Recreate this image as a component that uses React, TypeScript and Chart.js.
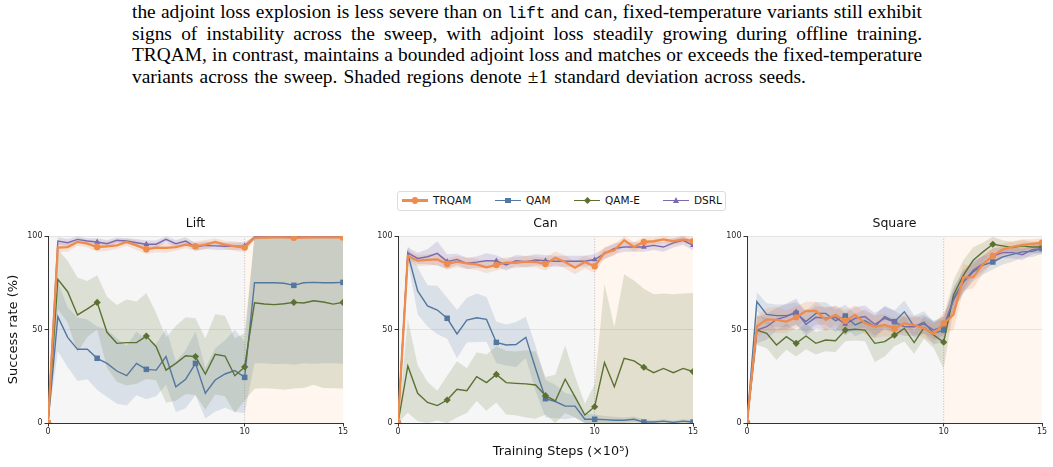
import { useEffect, useRef } from "react";
import { Chart, registerables } from "chart.js";

Chart.register(...registerables);

// Training steps (x 10^5)
const STEPS = [0, 0.5, 1, 1.5, 2, 2.5, 3, 3.5, 4, 4.5, 5, 5.5, 6, 6.5, 7, 7.5, 8, 8.5, 9, 9.5, 10, 10.5, 11, 11.5, 12, 12.5, 13, 13.5, 14, 14.5, 15];
const X_TICKS = [0, 10, 15];
const Y_TICKS = [0, 50, 100];
const SERIES_NAMES = ["TRQAM", "QAM", "QAM-E", "DSRL"];

// Lift: mean success rate and std across seeds
const LIFT_TRQAM = [0, 93.8, 94.1, 96.8, 95.9, 94.1, 94.5, 95.0, 96.8, 95.0, 92.9, 93.8, 93.6, 94.1, 95.4, 94.5, 95.4, 96.8, 95.4, 94.5, 93.8, 99.0, 99.2, 99.3, 99.3, 99.0, 99.2, 99.3, 99.3, 99.3, 99.2];
const LIFT_TRQAM_SD = [0, 2.5, 2.5, 2, 2, 2.5, 2.5, 2, 2, 2.5, 2.5, 2.5, 2.5, 2, 2, 2.5, 2.5, 2, 2, 2.5, 2.5, 1, 0.7, 0.6, 0.6, 0.7, 0.6, 0.6, 0.6, 0.6, 0.7];
const LIFT_QAM = [0, 56.9, 45.8, 39.4, 39.4, 34.6, 31.9, 27.8, 25.3, 31.9, 28.7, 28.3, 35.5, 19.4, 23.4, 31.9, 15.9, 23.0, 26.2, 28.0, 24.4, 75.0, 75.0, 75.0, 74.7, 73.6, 75.0, 75.2, 75.0, 75.0, 75.2];
const LIFT_QAM_SD = [0, 18.5, 16, 17, 16, 17, 18, 17.5, 16, 17, 16, 14, 15, 13.5, 15.5, 17, 13.5, 17, 18, 22, 19, 43, 43, 43.5, 43, 42.5, 43, 43.5, 43, 43, 43.5];
const LIFT_QAME = [0, 76.8, 70.2, 57.8, 61.0, 64.5, 48.5, 42.6, 43.0, 43.0, 46.5, 40.8, 28.3, 31.9, 36.0, 35.5, 26.2, 36.7, 35.8, 25.3, 30.0, 64.3, 63.6, 63.3, 63.8, 64.5, 64.2, 65.4, 64.7, 63.6, 64.5];
const LIFT_QAME_SD = [0, 16, 16.5, 20, 15, 14.5, 19, 20.5, 23, 22, 23, 18, 17.5, 20, 20.5, 20.5, 19, 21.5, 21.5, 20, 18, 46, 45, 45, 46, 46, 45.5, 45, 46, 45, 46];
const LIFT_DSRL = [0, 97.3, 96.4, 98.2, 97.3, 96.8, 95.9, 97.7, 97.3, 96.4, 95.6, 95.6, 98.2, 95.9, 97.3, 94.1, 95.0, 94.7, 94.5, 94.5, 94.7, 99.5, 99.6, 99.6, 99.6, 99.5, 99.6, 99.6, 99.6, 99.6, 99.6];
const LIFT_DSRL_SD = [0, 2, 2, 1.5, 1.5, 2, 2, 1.5, 1.5, 2, 2, 2, 1.5, 2, 2, 2, 2, 2, 2, 2, 2, 0.5, 0.4, 0.4, 0.4, 0.4, 0.4, 0.4, 0.4, 0.4, 0.4];

// Can
const CAN_TRQAM = [0, 89.3, 86.8, 87.2, 87.5, 85.0, 86.3, 85.4, 84.8, 83.2, 84.5, 85.7, 85.7, 86.3, 86.1, 85.0, 88.3, 86.1, 83.0, 86.1, 83.8, 91.0, 92.4, 97.7, 94.1, 96.8, 97.2, 98.2, 97.2, 98.2, 97.2];
const CAN_TRQAM_SD = [0, 3, 3, 3, 3, 3, 3, 3, 3, 3, 3, 3, 3, 3, 3, 3.5, 3.5, 3.5, 3.5, 3.5, 3.5, 3, 3, 2.5, 2.5, 2.5, 2, 2, 2, 2, 2];
const CAN_QAM = [0, 90.4, 70.6, 62.6, 60.4, 56.0, 47.6, 55.0, 56.3, 55.4, 43.1, 41.7, 42.0, 45.8, 29.0, 13.0, 11.5, 9.0, 9.0, 2.0, 2.0, 1.8, 1.5, 1.5, 2.0, 0.5, 0.5, 1.0, 0.3, 1.0, 0.5];
const CAN_QAM_SD = [0, 4, 12.5, 11, 13, 11, 13, 12, 13, 12, 11, 11, 12, 11, 12, 10, 9, 7, 6, 3, 2.5, 2, 1.8, 1.5, 1.5, 1.5, 1, 1, 1, 1, 1];
const CAN_QAME = [0, 30.5, 15.9, 11.0, 9.3, 12.3, 18.0, 17.3, 24.8, 21.6, 26.0, 21.6, 21.2, 20.9, 20.3, 14.6, 11.8, 23.4, 14.0, 4.3, 8.7, 32.3, 19.4, 34.6, 33.2, 29.8, 26.9, 29.2, 26.9, 29.2, 27.5];
const CAN_QAME_SD = [0, 25, 15, 11, 8, 13, 15, 12, 13, 15, 15, 17, 17, 18, 18, 10, 14, 18, 11, 6, 12, 42, 32, 45, 43, 42, 42, 40, 42, 40, 42];
const CAN_DSRL = [0, 91.0, 88.0, 88.9, 90.7, 86.3, 87.5, 85.4, 86.0, 86.8, 86.7, 84.5, 86.8, 86.3, 87.2, 86.8, 86.5, 86.5, 86.5, 86.5, 87.4, 90.6, 93.3, 94.1, 94.1, 94.1, 95.0, 94.1, 96.3, 97.7, 95.0];
const CAN_DSRL_SD = [0, 3, 3, 4, 6.5, 4, 3, 3, 3, 4, 3, 3, 3, 3, 3, 3, 3, 3, 3, 3, 3, 3, 3, 2.5, 2.5, 2.5, 2.5, 2.5, 2.5, 2.5, 2.5];

// Square
const SQ_TRQAM = [0, 51.5, 55.4, 55.1, 54.2, 56.5, 59.9, 59.9, 55.1, 57.8, 54.7, 57.8, 53.3, 51.5, 52.4, 50.6, 53.3, 52.4, 50.6, 47.6, 53.3, 58.0, 77.9, 78.0, 85.0, 89.5, 92.8, 94.2, 95.3, 95.8, 96.4];
const SQ_TRQAM_SD = [0, 6, 6, 7, 6, 6, 5, 5, 6, 5, 6, 5, 6, 6, 6, 5, 5, 5, 5, 5, 6, 8, 7, 6, 5, 4, 3, 3, 3, 2.5, 2.5];
const SQ_QAM = [0, 64.9, 58.1, 57.4, 57.4, 58.6, 54.2, 58.6, 58.6, 54.7, 57.2, 52.4, 54.7, 51.5, 56.9, 54.2, 59.5, 51.5, 53.8, 47.9, 49.7, 66.6, 75.5, 80.8, 84.4, 86.1, 88.8, 90.2, 91.5, 91.8, 93.3];
const SQ_QAM_SD = [0, 5, 6, 6, 6, 6, 6, 6, 6, 6, 6, 6, 6, 6, 6, 6, 6, 6, 6, 6, 6, 6, 6, 5, 5, 4, 4, 4, 3, 3, 3];
const SQ_QAME = [0, 49.7, 48.0, 41.7, 46.2, 42.6, 46.5, 42.6, 44.4, 44.0, 49.7, 50.1, 49.7, 42.6, 43.5, 47.0, 50.6, 43.0, 51.0, 47.0, 43.2, 68.4, 79.0, 87.0, 91.5, 95.6, 94.7, 93.8, 94.7, 94.1, 94.1];
const SQ_QAME_SD = [0, 8, 8, 8, 7, 7, 7, 6, 6, 6, 6, 6, 6, 10, 8, 6, 7, 6, 6, 7, 14, 8, 8, 7, 5, 4, 3, 3, 3, 3, 3];
const SQ_DSRL = [0, 49.7, 51.5, 55.4, 56.9, 59.5, 52.8, 56.5, 56.0, 56.5, 52.9, 56.0, 56.9, 52.8, 56.0, 54.0, 51.5, 51.5, 52.9, 49.7, 51.9, 65.7, 75.5, 81.7, 85.3, 89.3, 91.1, 91.1, 90.0, 92.7, 93.3];
const SQ_DSRL_SD = [0, 7, 7, 6, 7, 7, 6, 6, 6, 6, 6, 6, 6, 6, 6, 6, 5, 5, 5, 5, 5, 6, 6, 5, 4, 4, 3, 3, 3, 2.5, 2.5];

type Style = { color: string; band: string; marker: string; radius: number; width: number };

const STYLES: Record<string, Style> = {
  TRQAM: { color: "#ee8c4e", band: "rgba(238,140,78,0.2)", marker: "circle", radius: 3.2, width: 2.3 },
  QAM: { color: "#54779f", band: "rgba(84,119,159,0.17)", marker: "rect", radius: 3.9, width: 1.4 },
  "QAM-E": { color: "#5b7132", band: "rgba(91,113,50,0.17)", marker: "rectRot", radius: 3.6, width: 1.4 },
  DSRL: { color: "#7b6bae", band: "rgba(123,107,174,0.2)", marker: "triangle", radius: 3.4, width: 1.4 },
};

type Series = { name: string; mean: number[]; sd: number[] };
type PanelSpec = { title: string; left: number; series: Series[]; yTitle?: string; xTitle?: string };

const PANELS: PanelSpec[] = [
  {
    title: "Lift",
    left: 0,
    yTitle: "Success rate (%)",
    series: [
      { name: "TRQAM", mean: LIFT_TRQAM, sd: LIFT_TRQAM_SD },
      { name: "DSRL", mean: LIFT_DSRL, sd: LIFT_DSRL_SD },
      { name: "QAM-E", mean: LIFT_QAME, sd: LIFT_QAME_SD },
      { name: "QAM", mean: LIFT_QAM, sd: LIFT_QAM_SD },
    ],
  },
  {
    title: "Can",
    left: 350,
    xTitle: "Training Steps (\u00d710\u2075)",
    series: [
      { name: "TRQAM", mean: CAN_TRQAM, sd: CAN_TRQAM_SD },
      { name: "DSRL", mean: CAN_DSRL, sd: CAN_DSRL_SD },
      { name: "QAM-E", mean: CAN_QAME, sd: CAN_QAME_SD },
      { name: "QAM", mean: CAN_QAM, sd: CAN_QAM_SD },
    ],
  },
  {
    title: "Square",
    left: 699,
    series: [
      { name: "TRQAM", mean: SQ_TRQAM, sd: SQ_TRQAM_SD },
      { name: "DSRL", mean: SQ_DSRL, sd: SQ_DSRL_SD },
      { name: "QAM-E", mean: SQ_QAME, sd: SQ_QAME_SD },
      { name: "QAM", mean: SQ_QAM, sd: SQ_QAM_SD },
    ],
  },
];

const CANVAS_W = 353;
const CANVAS_H = 257;
const CANVAS_TOP = 210;
const FONT = "'DejaVu Sans', sans-serif";
const INK = "#262626";
const X_LABEL_CENTER = 561; // page x of the shared x-axis label

function Panel({ spec }: { spec: PanelSpec }) {
  const ref = useRef<HTMLCanvasElement>(null);

  useEffect(() => {
    if (!ref.current) return;

    const lines = spec.series.map((s) => {
      const st = STYLES[s.name];
      return {
        label: s.name,
        data: STEPS.map((x, i) => ({ x, y: s.mean[i] })),
        borderColor: st.color,
        backgroundColor: st.color,
        borderWidth: st.width,
        pointStyle: st.marker,
        pointRadius: (c: any) => (c.dataIndex % 5 === 0 ? st.radius : 0),
        pointBorderWidth: 0,
        pointBackgroundColor: st.color,
        fill: false,
        tension: 0,
      };
    });

    const bands = spec.series.flatMap((s) => {
      const st = STYLES[s.name];
      const upper = STEPS.map((x, i) => ({ x, y: Math.min(100, s.mean[i] + s.sd[i]) }));
      const lower = STEPS.map((x, i) => ({ x, y: Math.max(0, s.mean[i] - s.sd[i]) }));
      return [
        { label: s.name + " upper", data: upper, fill: "+1", backgroundColor: st.band, borderColor: "rgba(0,0,0,0)", borderWidth: 0, pointRadius: 0, tension: 0 },
        { label: s.name + " lower", data: lower, fill: false, backgroundColor: "rgba(0,0,0,0)", borderColor: "rgba(0,0,0,0)", borderWidth: 0, pointRadius: 0, tension: 0 },
      ];
    });

    const decor = {
      id: "decor",
      beforeDraw(chart: any) {
        const { ctx, chartArea: a, scales } = chart;
        const x10 = scales.x.getPixelForValue(10);
        ctx.save();
        ctx.fillStyle = "#f6f6f6";
        ctx.fillRect(a.left, a.top, x10 - a.left, a.bottom - a.top);
        ctx.fillStyle = "#fef6ef";
        ctx.fillRect(x10, a.top, a.right - x10, a.bottom - a.top);
        ctx.strokeStyle = "#bdbdbd";
        ctx.lineWidth = 0.9;
        ctx.setLineDash([1.2, 1.5]);
        ctx.beginPath();
        ctx.moveTo(x10, a.top);
        ctx.lineTo(x10, a.bottom);
        ctx.stroke();
        ctx.restore();
      },
      afterDraw(chart: any) {
        const { ctx, chartArea: a } = chart;
        ctx.save();
        ctx.fillStyle = "#111";
        ctx.textAlign = "center";
        ctx.textBaseline = "middle";
        ctx.font = `12.5px ${FONT}`;
        ctx.fillText(spec.title, (a.left + a.right) / 2, 14);
        if (spec.xTitle) {
          ctx.font = `12.8px ${FONT}`;
          ctx.fillText(spec.xTitle, X_LABEL_CENTER - spec.left, 242);
        }
        ctx.restore();
      },
    };

    const chart = new Chart(ref.current, {
      type: "line",
      data: { datasets: [...lines, ...bands] as any },
      options: {
        animation: false,
        responsive: false,
        maintainAspectRatio: false,
        events: [],
        layout: { padding: { top: 26, right: 10, bottom: 0, left: 0 } },
        plugins: {
          legend: { display: false },
          tooltip: { enabled: false },
          title: { display: false },
          filler: { drawTime: "beforeDatasetsDraw" },
        } as any,
        scales: {
          x: {
            type: "linear",
            min: 0,
            max: 15,
            afterBuildTicks: (s: any) => {
              s.ticks = X_TICKS.map((v) => ({ value: v }));
            },
            afterFit: (s: any) => {
              s.height = 44;
            },
            grid: { drawOnChartArea: false, drawTicks: true, tickLength: 3.5, tickColor: "#333", tickWidth: 1 },
            border: { display: true, color: "#333", width: 1 },
            ticks: { font: { family: FONT, size: 8 }, color: INK, padding: 1, maxRotation: 0, autoSkip: false },
          },
          y: {
            min: 0,
            max: 100,
            afterBuildTicks: (s: any) => {
              s.ticks = Y_TICKS.map((v) => ({ value: v }));
            },
            afterFit: (s: any) => {
              s.width = 48;
            },
            grid: {
              color: (c: any) => (c.tick && c.tick.value === 0 ? "rgba(0,0,0,0)" : "#e3e3e3"),
              lineWidth: 1,
              tickColor: "#333",
              tickLength: 3.5,
            },
            border: { display: true, color: "#333", width: 1 },
            ticks: { font: { family: FONT, size: 8 }, color: INK, padding: 2 },
            title: spec.yTitle
              ? { display: true, text: spec.yTitle, font: { family: FONT, size: 13 }, color: "#111", padding: { top: 5.5, bottom: 0 } }
              : { display: false },
          },
        },
      } as any,
      plugins: [decor],
    });

    return () => chart.destroy();
  }, [spec]);

  return (
    <canvas
      ref={ref}
      width={CANVAS_W}
      height={CANVAS_H}
      style={{ position: "absolute", left: spec.left, top: CANVAS_TOP, width: CANVAS_W, height: CANVAS_H }}
    />
  );
}

function LegendMarker({ name }: { name: string }) {
  const st = STYLES[name];
  const base: any = { position: "absolute", left: 13, top: 9.5 };
  if (st.marker === "circle") {
    return <span style={{ ...base, width: 6.5, height: 6.5, marginLeft: -3.25, marginTop: -3.25, borderRadius: "50%", background: st.color }} />;
  }
  if (st.marker === "rect") {
    return <span style={{ ...base, width: 5.5, height: 5.5, marginLeft: -2.75, marginTop: -2.75, background: st.color }} />;
  }
  if (st.marker === "rectRot") {
    return <span style={{ ...base, width: 5, height: 5, marginLeft: -2.5, marginTop: -2.5, background: st.color, transform: "rotate(45deg)" }} />;
  }
  return (
    <span
      style={{
        ...base,
        width: 0,
        height: 0,
        marginLeft: -3.5,
        marginTop: -3.8,
        borderLeft: "3.5px solid transparent",
        borderRight: "3.5px solid transparent",
        borderBottom: `6px solid ${st.color}`,
      }}
    />
  );
}

const LEGEND_OFFSETS = [4, 97, 176, 265];

function Legend() {
  return (
    <div
      style={{
        position: "absolute",
        left: 397,
        top: 191,
        width: 327,
        height: 18,
        border: "1px solid #dcdcdc",
        borderRadius: 3,
        background: "#fff",
      }}
    >
      {SERIES_NAMES.map((name, i) => {
        const st = STYLES[name];
        return (
          <div key={name} style={{ position: "absolute", left: LEGEND_OFFSETS[i], top: -1, height: 19 }}>
            <span
              style={{
                position: "absolute",
                left: 0,
                top: 9.5 - st.width / 2,
                width: 26,
                height: st.width,
                background: st.color,
              }}
            />
            <LegendMarker name={name} />
            <span
              style={{
                position: "absolute",
                left: 31,
                top: 0,
                lineHeight: "19px",
                fontFamily: FONT,
                fontSize: 10.5,
                color: "#111",
                whiteSpace: "nowrap",
              }}
            >
              {name}
            </span>
          </div>
        );
      })}
    </div>
  );
}

const mono: any = { fontFamily: "'Liberation Mono', 'Courier New', monospace", fontSize: "0.82em" };
const lineStyle: any = { width: 790, height: 21.7, textAlign: "justify", textAlignLast: "justify", whiteSpace: "nowrap" };

function Caption() {
  return (
    <div
      style={{
        position: "absolute",
        left: 132,
        top: 1,
        width: 790,
        fontFamily: "'Liberation Serif', 'Times New Roman', serif",
        fontSize: 19.4,
        lineHeight: "21.7px",
        color: "#000",
      }}
    >
      <div style={lineStyle}>
        the adjoint loss explosion is less severe than on <span style={mono}>lift</span> and <span style={mono}>can</span>, fixed-temperature variants still exhibit
      </div>
      <div style={lineStyle}>signs of instability across the sweep, with adjoint loss steadily growing during offline training.</div>
      <div style={lineStyle}>TRQAM, in contrast, maintains a bounded adjoint loss and matches or exceeds the fixed-temperature</div>
      <div style={{ width: 790, height: 21.7, textAlign: "left", whiteSpace: "nowrap", wordSpacing: 1.3 }}>
        variants across the sweep. Shaded regions denote {"\u00b1"}1 standard deviation across seeds.
      </div>
    </div>
  );
}

export default function App() {
  return (
    <div style={{ position: "fixed", left: 0, top: 0, width: 1053, height: 467, background: "#fff", overflow: "hidden" }}>
      <Caption />
      <Legend />
      {PANELS.map((p) => (
        <Panel key={p.title} spec={p} />
      ))}
    </div>
  );
}
